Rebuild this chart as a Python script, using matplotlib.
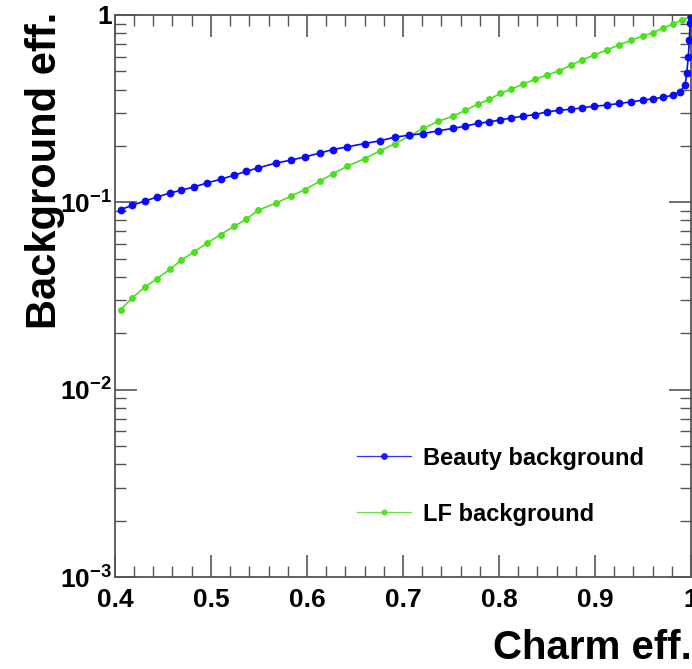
import matplotlib
matplotlib.use("Agg")
import matplotlib.pyplot as plt
from matplotlib.ticker import FixedLocator, MultipleLocator, LogLocator, FuncFormatter, NullFormatter

plt.rcParams['font.family'] = ['Liberation Sans', 'DejaVu Sans']
plt.rcParams['mathtext.fontset'] = 'custom'
plt.rcParams['mathtext.rm'] = 'Liberation Sans:bold'
plt.rcParams['mathtext.bf'] = 'Liberation Sans:bold'
plt.rcParams['mathtext.it'] = 'Liberation Sans:bold'

# ---- data ----
beauty_x = [0.406, 0.418, 0.431, 0.444, 0.457, 0.469, 0.482, 0.496, 0.510, 0.524,
            0.537, 0.549, 0.568, 0.583, 0.598, 0.614, 0.627, 0.642, 0.660, 0.676,
            0.692, 0.706, 0.721, 0.737, 0.752, 0.765, 0.778, 0.790, 0.801, 0.813,
            0.825, 0.8375, 0.850, 0.863, 0.875, 0.886, 0.899, 0.912, 0.925, 0.938,
            0.950, 0.960, 0.9705, 0.981, 0.9885, 0.9938, 0.9955, 0.9972, 0.9982, 0.9990,
            0.9997, 1.0]
beauty_y = [0.0914, 0.0964, 0.1016, 0.1067, 0.1121, 0.1159, 0.1208, 0.1268, 0.1327, 0.1395,
            0.1465, 0.1525, 0.1622, 0.1678, 0.1748, 0.1836, 0.1914, 0.1977, 0.206, 0.213,
            0.223, 0.228, 0.233, 0.241, 0.248, 0.255, 0.264, 0.269, 0.275, 0.282,
            0.288, 0.294, 0.304, 0.310, 0.314, 0.319, 0.326, 0.330, 0.337, 0.344,
            0.351, 0.357, 0.363, 0.373, 0.389, 0.422, 0.488, 0.598, 0.735, 0.903,
            0.979, 1.0]

lf_x = [0.406, 0.418, 0.431, 0.444, 0.457, 0.469, 0.482, 0.496, 0.510, 0.524,
        0.537, 0.549, 0.568, 0.583, 0.598, 0.614, 0.627, 0.642, 0.660, 0.676,
        0.692, 0.707, 0.721, 0.737, 0.752, 0.765, 0.778, 0.790, 0.801, 0.813,
        0.825, 0.8375, 0.850, 0.863, 0.875, 0.886, 0.899, 0.912, 0.925, 0.938,
        0.950, 0.960, 0.9705, 0.981, 0.9905, 0.999, 1.0]
lf_y = [0.0267, 0.0309, 0.0352, 0.0391, 0.0438, 0.0490, 0.0542, 0.0606, 0.0672, 0.0744,
        0.0814, 0.0906, 0.0991, 0.1077, 0.117, 0.130, 0.142, 0.156, 0.171, 0.188,
        0.206, 0.226, 0.248, 0.271, 0.288, 0.310, 0.334, 0.354, 0.381, 0.402,
        0.428, 0.453, 0.478, 0.504, 0.540, 0.574, 0.611, 0.650, 0.691, 0.735,
        0.772, 0.804, 0.849, 0.895, 0.940, 0.979, 1.0]

series_labels = ["Beauty background", "LF background"]
x_ticks = [0.4, 0.5, 0.6, 0.7, 0.8, 0.9, 1.0]
x_ticklabels = ["0.4", "0.5", "0.6", "0.7", "0.8", "0.9", "1"]
x_label = "Charm eff."
y_label = "Background eff."

blue = '#0a0aff'
green = '#4ce020'

fig = plt.figure(figsize=(6.92, 6.69), dpi=100)
ax = fig.add_axes([0.166, 0.1375, 0.8326, 0.8401])

ax.plot(beauty_x, beauty_y, color=blue, lw=1.2, marker='o', ms=4.6, mec=blue, mfc=blue,
        label=series_labels[0], zorder=3)
ax.plot(lf_x, lf_y, color=green, lw=1.2, marker='o', ms=4.0, mec=green, mfc=green,
        label=series_labels[1], zorder=2)

ax.set_yscale('log')
ax.set_xlim(0.4, 1.0)
ax.set_ylim(1e-3, 1.0)

ax.xaxis.set_major_locator(FixedLocator(x_ticks))
ax.set_xticklabels(x_ticklabels)
ax.xaxis.set_minor_locator(MultipleLocator(0.02))

ax.yaxis.set_major_locator(LogLocator(base=10, numticks=10))
ax.yaxis.set_minor_locator(LogLocator(base=10, subs=range(2, 10), numticks=10))
ax.yaxis.set_minor_formatter(NullFormatter())

def yfmt(v, pos):
    import math
    e = int(round(math.log10(v)))
    if e == 0:
        return "1"
    return r"$10^{%d}$" % e
ax.yaxis.set_major_formatter(FuncFormatter(yfmt))

for a in ('x', 'y'):
    ax.tick_params(axis=a, which='major', direction='in', length=16, width=1.2,
                   color='#555555', top=True, right=True, labelsize=19)
    ax.tick_params(axis=a, which='minor', direction='in', length=8, width=1.0,
                   color='#555555', top=True, right=True)
ax.tick_params(axis='x', which='major', pad=8)
ax.tick_params(axis='y', which='major', pad=2)
for lbl in ax.get_xticklabels() + ax.get_yticklabels():
    lbl.set_fontweight('bold')
for s in ax.spines.values():
    s.set_color('#555555')
    s.set_linewidth(1.3)

fig.text(1.0, 0.003, x_label, ha='right', va='bottom', fontsize=29, fontweight='bold')
fig.text(0.036, 0.982, y_label, ha='left', va='top', rotation=90, fontsize=30, fontweight='bold')

leg = ax.legend(loc='upper left', bbox_to_anchor=(0.42, 0.232), frameon=False,
                borderaxespad=0, borderpad=0,
                fontsize=17, handlelength=2.3, handletextpad=0.5, labelspacing=1.4,
                markerscale=0.85)
for t in leg.get_texts():
    t.set_fontweight('bold')
for h in leg.legend_handles:
    h.set_linewidth(0.9)
    h.set_alpha(0.85)

fig.savefig('out.png', dpi=100)
